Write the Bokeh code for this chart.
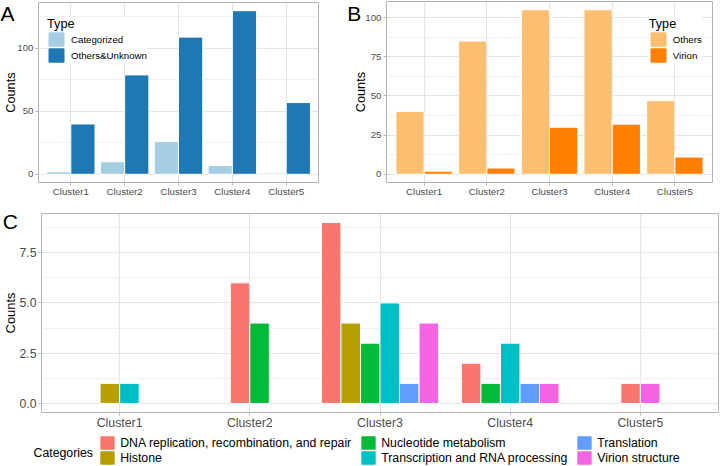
import math
import numpy as np
from bokeh.plotting import figure
from bokeh.models import (Range1d, FixedTicker, Legend, LegendItem, Label,
                          NumeralTickFormatter, ColumnDataSource, GridBox)
from bokeh.embed import file_html
from bokeh.resources import INLINE

# ---------------- data ----------------
clusters = ["Cluster1", "Cluster2", "Cluster3", "Cluster4", "Cluster5"]

a_types = ["Categorized", "Others&Unknown"]
a_categorized = [2, 10, 26, 7, 1]
a_others_unknown = [40, 79, 109, 130, 57]
a_colors = ["#A6CEE3", "#1F78B4"]
a_yticks = [0, 50, 100]

b_types = ["Others", "Virion"]
b_others = [40, 85, 105, 105, 47]
b_virion = [2, 4, 30, 32, 11]
b_colors = ["#FDBF6F", "#FF7F00"]
b_yticks = [0, 25, 50, 75, 100]

c_categories = ["DNA replication, recombination, and repair", "Histone",
                "Nucleotide metabolism", "Transcription and RNA processing",
                "Translation", "Virion structure"]
c_dna = [0, 6, 9, 2, 1]
c_histone = [1, 0, 4, 0, 0]
c_nucleotide = [0, 4, 3, 1, 0]
c_transcription = [1, 0, 5, 3, 0]
c_translation = [0, 0, 1, 1, 0]
c_virion = [0, 0, 4, 1, 1]
c_colors = ["#F8766D", "#B79F00", "#00BA38", "#00BFC4", "#619CFF", "#F564E3"]
c_yticks = [0, 2.5, 5, 7.5]

FONT = "Liberation Sans"
FRAME = "#B3B3B3"
GRID = "#E3E3E3"
MINOR = "#F0F0F0"
W, H = 720, 466


def no_align(p):
    if "frame_align" in p.properties():
        p.frame_align = False


def make_fig(w, h, l, r, t, b, ymax, yticks, tick_size):
    p = figure(width=w, height=h, title=None, toolbar_location=None,
               output_backend="svg",
               x_range=Range1d(0.4, len(clusters) + 0.6),
               y_range=Range1d(-0.05 * ymax, 1.05 * ymax),
               min_border_left=l, min_border_right=r,
               min_border_top=t, min_border_bottom=b)
    no_align(p)
    step = yticks[1] - yticks[0]
    minor = [v + step / 2 for v in yticks]
    xt = FixedTicker(ticks=list(range(1, len(clusters) + 1)))
    yt = FixedTicker(ticks=yticks, minor_ticks=minor)
    p.xaxis.ticker = xt
    p.yaxis.ticker = yt
    p.xgrid.ticker = xt
    p.ygrid.ticker = yt
    p.xaxis.major_label_overrides = {i + 1: c for i, c in enumerate(clusters)}
    for ax in (p.xaxis, p.yaxis):
        ax.axis_line_color = None
        ax.major_tick_in = 0
        ax.major_tick_out = 3
        ax.major_tick_line_color = FRAME
        ax.minor_tick_line_color = None
        ax.major_label_text_font = FONT
        ax.major_label_text_font_size = tick_size
        ax.major_label_text_color = "#4D4D4D"
    p.xaxis.major_label_standoff = 0
    p.yaxis.major_label_standoff = 1
    p.xgrid.grid_line_color = GRID
    p.ygrid.grid_line_color = GRID
    p.ygrid.minor_grid_line_color = MINOR
    p.outline_line_color = FRAME
    p.outline_line_width = 1
    p.background_fill_color = "white"
    p.border_fill_color = "white"
    return p


def dodge_sources(series):
    x = np.arange(1, len(clusters) + 1)
    n = len(series)
    w = 0.9 / n
    return [ColumnDataSource(dict(x=x + (k - (n - 1) / 2) * w, top=vals))
            for k, vals in enumerate(series)], w


def draw_bars(p, sources, w, colors):
    for src, col in zip(sources, colors):
        p.vbar(x="x", top="top", bottom=0, width=w, source=src,
               fill_color=col, line_color="white", line_width=1)


# ---------------- panel A ----------------
pA = make_fig(346, 200, 38, 28, 2, 18, max(a_others_unknown), a_yticks, "9.7px")
srcA, wA = dodge_sources([a_categorized, a_others_unknown])
draw_bars(pA, srcA, wA, a_colors)

# ---------------- panel B ----------------
pB = make_fig(374, 200, 40, 8, 1, 18, max(b_others), b_yticks, "9.7px")
srcB, wB = dodge_sources([b_others, b_virion])
draw_bars(pB, srcB, wB, b_colors)

# ---------------- panel C ----------------
c_series = [c_dna, c_histone, c_nucleotide, c_transcription, c_translation, c_virion]
pC = make_fig(720, 266, 41, 2, 13, 54, max(max(s) for s in c_series), c_yticks, "12.3px")
pC.yaxis.formatter = NumeralTickFormatter(format="0.0")

slot = 0.9 / len(c_categories)
xs = {k: [] for k in range(len(c_categories))}
tops = {k: [] for k in range(len(c_categories))}
for i in range(len(clusters)):
    present = [k for k in range(len(c_categories)) if c_series[k][i] > 0]
    n = len(present)
    for j, k in enumerate(present):
        xs[k].append(i + 1 + (j - (n - 1) / 2) * slot)
        tops[k].append(c_series[k][i])
srcC = [ColumnDataSource(dict(x=xs[k], top=tops[k])) for k in range(len(c_categories))]
draw_bars(pC, srcC, slot, c_colors)

# ---------------- overlay for free texts and legends ----------------
ov = figure(width=W, height=H, title=None, toolbar_location=None, output_backend="svg",
            x_range=Range1d(0, W), y_range=Range1d(0, H),
            x_axis_type=None, y_axis_type=None, min_border=0)
no_align(ov)
ov.grid.visible = False
ov.outline_line_color = None
ov.background_fill_alpha = 0
ov.border_fill_alpha = 0


def put(text, px, py, size, angle=0.0, align="left", baseline="alphabetic"):
    ov.add_layout(Label(x=px, y=H - py, text=text, text_font=FONT,
                        text_font_size=size, angle=angle, text_align=align,
                        text_baseline=baseline, text_color="black"))


def swatches(names, sources, w, colors):
    # legend keys: hidden copies of the bar renderers (same data), drawn only in legends
    items = []
    for name, src, col in zip(names, sources, colors):
        r = ov.vbar(x="x", top="top", bottom=0, width=w,
                    source=ColumnDataSource(dict(src.data)),
                    fill_color=col, line_color=col, line_width=1.6, visible=False)
        items.append(LegendItem(label=name, renderers=[r]))
    return items


def type_legend(items, left, top):
    height = 60.2
    return Legend(items=items, title="Type", location=(left, H - (top + height)),
                  title_text_font=FONT, title_text_font_size="12.7px",
                  title_text_font_style="normal", title_text_color="black",
                  title_standoff=0,
                  label_text_font=FONT, label_text_font_size="9.7px",
                  label_text_color="black", label_height=16, label_standoff=6,
                  glyph_width=18, glyph_height=16, spacing=0, padding=5, margin=0,
                  border_line_color=None, background_fill_color="white",
                  background_fill_alpha=1.0)


ov.add_layout(type_legend(swatches(a_types, srcA, wA, a_colors), 47, 3))
ov.add_layout(type_legend(swatches(b_types, srcB, wB, b_colors), 648.7, 3))

c_items = swatches(c_categories, srcC, slot, c_colors)
for ci, left in enumerate([99.2, 360.2, 576.2]):
    ov.add_layout(Legend(items=c_items[2 * ci:2 * ci + 2], location=(left, H - 465.3),
                         label_text_font=FONT, label_text_font_size="12.3px",
                         label_text_color="black", label_height=15, label_standoff=5,
                         glyph_width=16, glyph_height=15, spacing=0, padding=0, margin=0,
                         border_line_color=None, background_fill_alpha=0.0))

put("A", 0, 13.3, "21px")
put("B", 346.7, 13.3, "21px")
put("C", 2.3, 221.3, "21px")
put("Counts", 10.5, 92.1, "12.7px", angle=math.pi / 2, align="center")
put("Counts", 360.5, 91.6, "12.7px", angle=math.pi / 2, align="center")
put("Counts", 10, 312.5, "12.9px", angle=math.pi / 2, align="center")
put("Categories", 33, 452.0, "12.3px")

grid = GridBox(children=[(pA, 0, 0), (pB, 0, 1), (pC, 1, 0, 1, 2), (ov, 0, 0, 2, 2)])
open("out.html", "w").write(file_html(grid, INLINE))
